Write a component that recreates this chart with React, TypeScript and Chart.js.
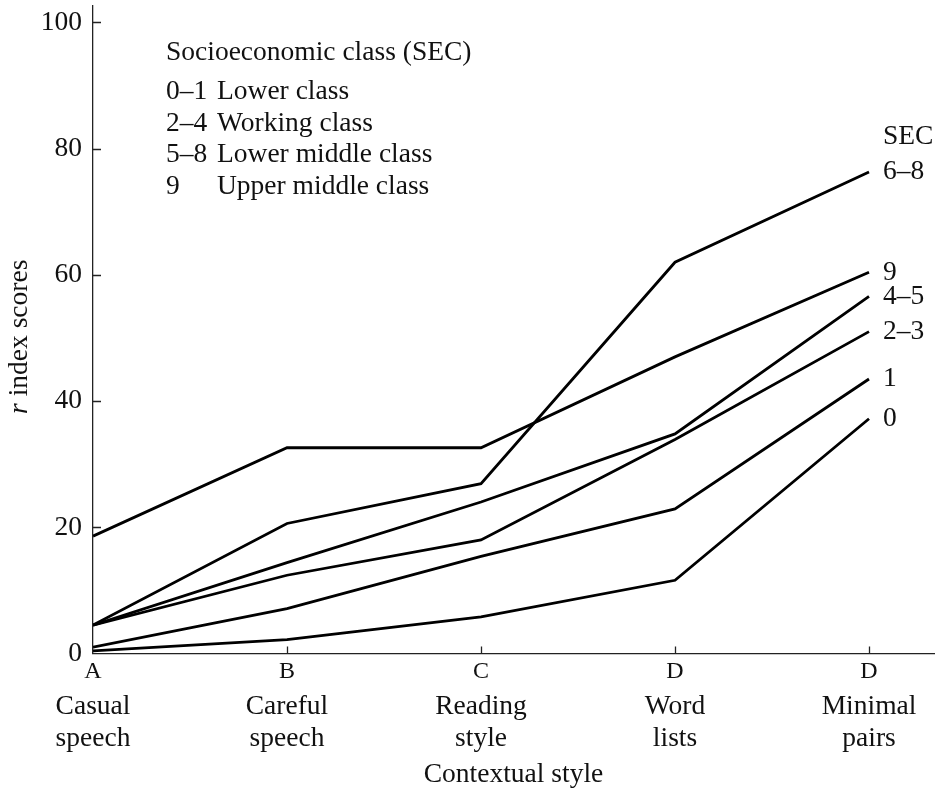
import { useEffect, useRef } from 'react';
import { Chart, registerables } from 'chart.js';

Chart.register(...registerables);

// ---- data ----
const styleLetters = ['A', 'B', 'C', 'D', 'D'];
const styleNames = [
  ['Casual', 'speech'],
  ['Careful', 'speech'],
  ['Reading', 'style'],
  ['Word', 'lists'],
  ['Minimal', 'pairs'],
];
const seriesLabels = ['0', '1', '2–3', '4–5', '6–8', '9'];
const sec0 = [0.4, 2.2, 5.8, 11.6, 37.2];
const sec1 = [1.0, 7.1, 15.4, 22.9, 43.5];
const sec23 = [4.5, 12.4, 18.0, 33.9, 51.0];
const sec45 = [4.5, 14.4, 24.0, 34.8, 56.6];
const sec68 = [4.5, 20.6, 26.9, 62.0, 76.3];
const sec9 = [18.6, 32.6, 32.6, 47.0, 60.4];
const seriesValues = [sec0, sec1, sec23, sec45, sec68, sec9];
const yTicks = [0, 20, 40, 60, 80, 100];
const yMax = 102.6;
const xMax = 4.335;

const legendTitle = 'Socioeconomic class (SEC)';
const legendCodes = ['0–1', '2–4', '5–8', '9'];
const legendNames = ['Lower class', 'Working class', 'Lower middle class', 'Upper middle class'];
const endLabelHeader = 'SEC';
const xTitle = 'Contextual style';
const yTitleItalic = 'r';
const yTitleRest = ' index scores';

const FONT = "'Liberation Serif', 'DejaVu Serif', serif";
const INK = '#111';
const FS = 27.5;

const overlayPlugin = {
  id: 'overlay',
  afterDraw(chart: any) {
    const { ctx, chartArea, scales } = chart;
    const x = scales.x;
    const y = scales.y;
    ctx.save();
    // inner tick marks
    ctx.strokeStyle = '#222';
    ctx.lineWidth = 1.3;
    ctx.beginPath();
    yTicks.forEach((v) => {
      if (v === 0) return;
      const py = Math.round(y.getPixelForValue(v)) + 0.5;
      ctx.moveTo(chartArea.left, py);
      ctx.lineTo(chartArea.left + 8, py);
    });
    styleLetters.forEach((_, i) => {
      if (i === 0) return;
      const px = Math.round(x.getPixelForValue(i)) + 0.5;
      ctx.moveTo(px, chartArea.bottom);
      ctx.lineTo(px, chartArea.bottom - 7);
    });
    ctx.stroke();

    // legend text block
    ctx.fillStyle = INK;
    ctx.font = `${FS}px ${FONT}`;
    ctx.textAlign = 'left';
    ctx.textBaseline = 'alphabetic';
    const lx = chartArea.left + 73;
    const lx2 = chartArea.left + 124;
    ctx.fillText(legendTitle, lx, chartArea.top + 54);
    legendCodes.forEach((code, i) => {
      const by = chartArea.top + 93 + i * 31.5;
      ctx.fillText(code, lx, by);
      ctx.fillText(legendNames[i], lx2, by);
    });

    // end-of-line labels
    ctx.textBaseline = 'middle';
    let topY = Infinity;
    let topX = 0;
    seriesLabels.forEach((lab, i) => {
      const meta = chart.getDatasetMeta(i);
      const pt = meta.data[meta.data.length - 1];
      ctx.fillText(lab, pt.x + 14, pt.y);
      if (pt.y < topY) {
        topY = pt.y;
        topX = pt.x + 14;
      }
    });
    ctx.fillText(endLabelHeader, topX, topY - 35);

    // y axis title with italic r
    ctx.translate(27, (chartArea.top + chartArea.bottom) / 2 + 7);
    ctx.rotate(-Math.PI / 2);
    ctx.textBaseline = 'alphabetic';
    ctx.font = `italic ${FS}px ${FONT}`;
    const w1 = ctx.measureText(yTitleItalic).width;
    ctx.font = `${FS}px ${FONT}`;
    const w2 = ctx.measureText(yTitleRest).width;
    const start = -(w1 + w2) / 2;
    ctx.font = `italic ${FS}px ${FONT}`;
    ctx.fillText(yTitleItalic, start, 0);
    ctx.font = `${FS}px ${FONT}`;
    ctx.fillText(yTitleRest, start + w1, 0);
    ctx.restore();
  },
};

export default function App() {
  const ref = useRef<HTMLCanvasElement | null>(null);

  useEffect(() => {
    if (!ref.current) return;
    const chart = new Chart(ref.current, {
      type: 'line',
      data: {
        labels: styleLetters.map((_, i) => i),
        datasets: seriesValues.map((vals, i) => ({
          label: seriesLabels[i],
          data: vals,
          borderColor: '#000',
          borderWidth: 2.8,
          pointRadius: 0,
          tension: 0,
          fill: false,
          xAxisID: 'x',
          yAxisID: 'y',
        })),
      },
      options: {
        responsive: false,
        animation: false,
        events: [],
        layout: { padding: { top: 6, right: 1, left: 0, bottom: 0 } },
        plugins: {
          legend: { display: false },
          tooltip: { enabled: false },
          title: { display: false },
        },
        scales: {
          x: {
            type: 'linear',
            position: 'bottom',
            weight: 0,
            min: 0,
            max: xMax,
            grid: { display: true, drawOnChartArea: false, drawTicks: false },
            border: { display: true, color: '#222', width: 1.3 },
            afterBuildTicks: (s: any) => {
              s.ticks = styleLetters.map((_, i) => ({ value: i }));
            },
            afterFit: (s: any) => {
              s.height = 30;
              s.paddingLeft = 0;
              s.paddingRight = 0;
            },
            ticks: {
              autoSkip: false,
              maxRotation: 0,
              padding: 6,
              color: INK,
              font: { family: FONT, size: 24, lineHeight: 1 },
              callback: (v: any) => styleLetters[v] ?? '',
            },
          },
          x2: {
            type: 'linear',
            position: 'bottom',
            weight: 1,
            min: 0,
            max: xMax,
            grid: { display: false, drawTicks: false },
            border: { display: false },
            afterBuildTicks: (s: any) => {
              s.ticks = styleNames.map((_, i) => ({ value: i }));
            },
            afterFit: (s: any) => {
              s.height = 104.5;
              s.paddingLeft = 0;
              s.paddingRight = 0;
            },
            ticks: {
              autoSkip: false,
              maxRotation: 0,
              padding: 7,
              color: INK,
              font: { family: FONT, size: FS, lineHeight: 1.17 },
              callback: (v: any) => styleNames[v] ?? '',
            },
            title: {
              display: true,
              text: xTitle,
              color: INK,
              font: { family: FONT, size: FS, lineHeight: 1 },
              padding: { top: 0, bottom: -1 },
            },
          },
          y: {
            type: 'linear',
            position: 'left',
            min: 0,
            max: yMax,
            grid: { display: true, drawOnChartArea: false, drawTicks: false },
            border: { display: true, color: '#222', width: 1.3 },
            afterBuildTicks: (s: any) => {
              s.ticks = yTicks.map((v) => ({ value: v }));
            },
            afterFit: (s: any) => {
              s.width = 93;
              s.paddingTop = 0;
              s.paddingBottom = 0;
            },
            ticks: {
              padding: 11,
              color: INK,
              font: { family: FONT, size: FS, lineHeight: 1 },
              callback: (v: any) => String(v),
            },
          },
        },
      },
      plugins: [overlayPlugin],
    });
    return () => chart.destroy();
  }, []);

  return (
    <div style={{ position: 'absolute', left: 0, top: 0, width: 935, height: 788, background: '#fff' }}>
      <canvas ref={ref} width={935} height={788} style={{ display: 'block' }} />
    </div>
  );
}
